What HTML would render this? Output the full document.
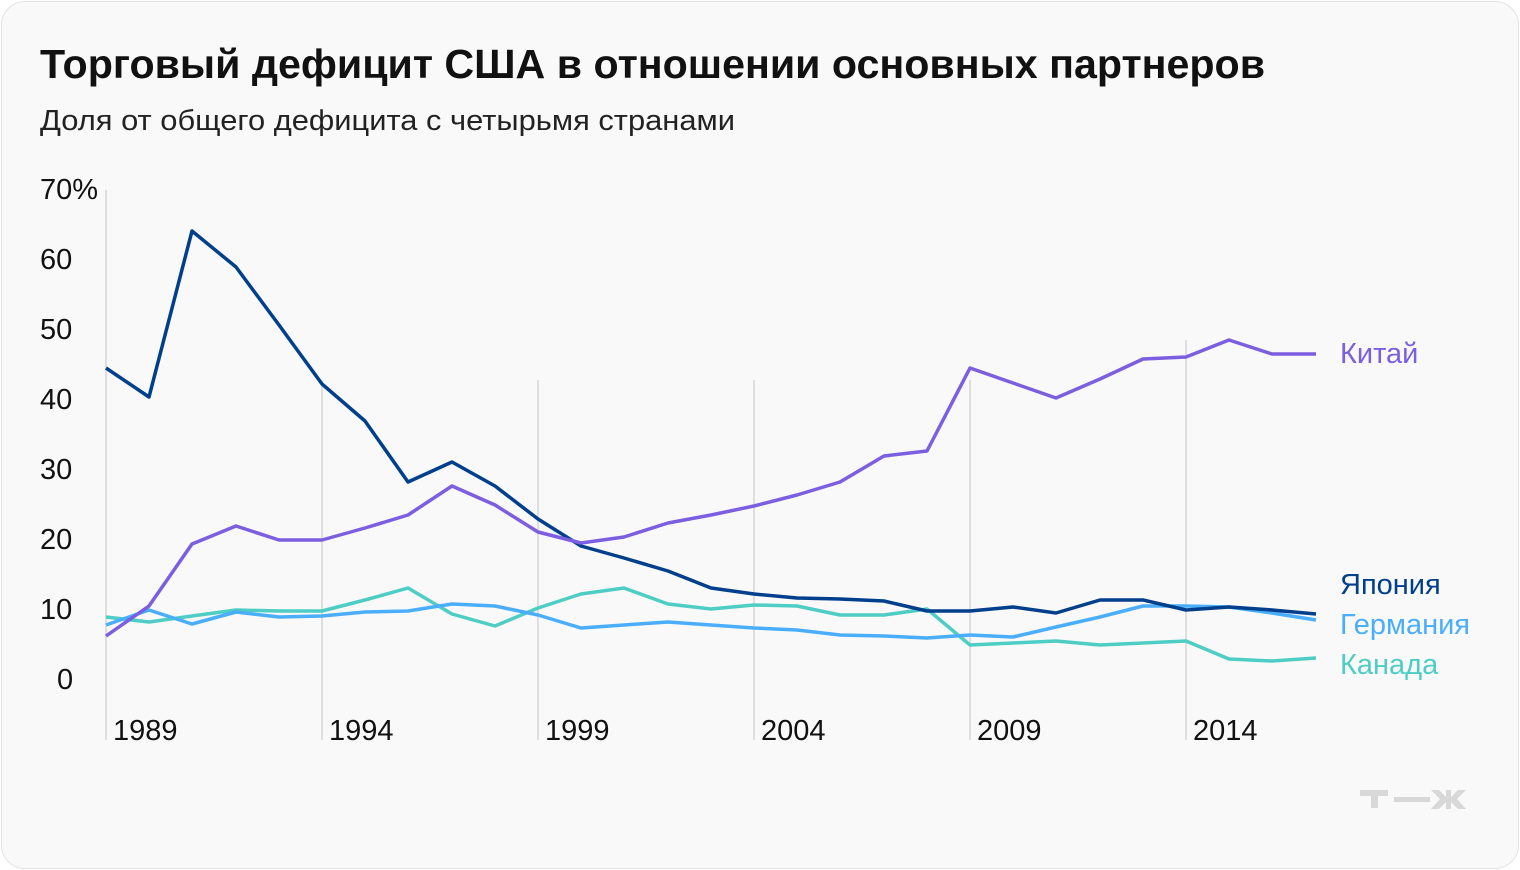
<!DOCTYPE html>
<html><head><meta charset="utf-8"><style>
html,body{margin:0;padding:0;background:#fff;}
.card{position:absolute;left:1px;top:1px;width:1516px;height:866px;border:1px solid #e4e4e4;border-radius:24px;background:#f9f9f9;}
svg{position:absolute;left:0;top:0;}
text{font-family:"Liberation Sans",sans-serif;}
</style></head><body>
<div class="card"></div>
<svg width="1520" height="870" viewBox="0 0 1520 870">
<text x="40" y="78" font-size="41" font-weight="bold" fill="#111" textLength="1225" lengthAdjust="spacingAndGlyphs">Торговый дефицит США в отношении основных партнеров</text>
<text x="40" y="130" font-size="29" fill="#222" textLength="695" lengthAdjust="spacingAndGlyphs">Доля от общего дефицита с четырьмя странами</text>
<g stroke="#dedede" stroke-width="2">
<line x1="106" y1="190" x2="106" y2="740"/><line x1="322" y1="380" x2="322" y2="740"/><line x1="538" y1="380" x2="538" y2="740"/><line x1="754" y1="380" x2="754" y2="740"/><line x1="970" y1="380" x2="970" y2="740"/><line x1="1186" y1="340" x2="1186" y2="740"/>
</g>
<g font-size="29" fill="#111">
<text x="40" y="199">70%</text><text x="40" y="269">60</text><text x="40" y="339">50</text><text x="40" y="409">40</text><text x="40" y="479">30</text><text x="40" y="549">20</text><text x="40" y="619">10</text><text x="57" y="689">0</text>
<text x="113" y="740">1989</text><text x="329" y="740">1994</text><text x="545" y="740">1999</text><text x="761" y="740">2004</text><text x="977" y="740">2009</text><text x="1193" y="740">2014</text>
</g>
<g fill="none" stroke-width="3.5" stroke-linejoin="round">
<polyline stroke="#4ecdc4" points="106,617 149,622 192,616 236,610 279,611 322,611 365,600 408,588 452,614 495,626 538,608 581,594 624,588 668,604 711,609 754,605 797,606 840,615 884,615 927,609 970,645 1013,643 1056,641 1100,645 1143,643 1186,641 1229,659 1272,661 1316,658"/>
<polyline stroke="#4aaefc" points="106,625 149,610 192,624 236,612 279,617 322,616 365,612 408,611 452,604 495,606 538,615 581,628 624,625 668,622 711,625 754,628 797,630 840,635 884,636 927,638 970,635 1013,637 1056,627 1100,617 1143,606 1186,606 1229,607 1272,613 1316,620"/>
<polyline stroke="#003f8c" points="106,368 149,397 192,231 236,267 279,325 322,384 365,421 408,482 452,462 495,486 538,519 581,546 624,558 668,571 711,588 754,594 797,598 840,599 884,601 927,611 970,611 1013,607 1056,613 1100,600 1143,600 1186,610 1229,607 1272,610 1316,614"/>
<polyline stroke="#7b5fe0" points="106,636 149,606 192,544 236,526 279,540 322,540 365,528 408,515 452,486 495,505 538,532 581,543 624,537 668,523 711,515 754,506 797,495 840,482 884,456 927,451 970,368 1013,383 1056,398 1100,379 1143,359 1186,357 1229,340 1272,354 1316,354"/>
</g>
<g font-size="29">
<text x="1340" y="363" fill="#7b5fe0">Китай</text>
<text x="1340" y="594" fill="#003f8c">Япония</text>
<text x="1340" y="634" fill="#4aaefc">Германия</text>
<text x="1340" y="674" fill="#4ecdc4">Канада</text>
</g>
<g fill="#d8d8d8">
<rect x="1360" y="790" width="28" height="6"/><rect x="1371" y="790" width="7" height="18"/>
<rect x="1394" y="797" width="36" height="5"/>
<path d="M1431 790h8l7 7v-7h5v7l7-7h8l-9 9 9 10h-8l-7-7v7h-5v-7l-7 7h-8l9-10z"/>
</g>
</svg>
</body></html>
